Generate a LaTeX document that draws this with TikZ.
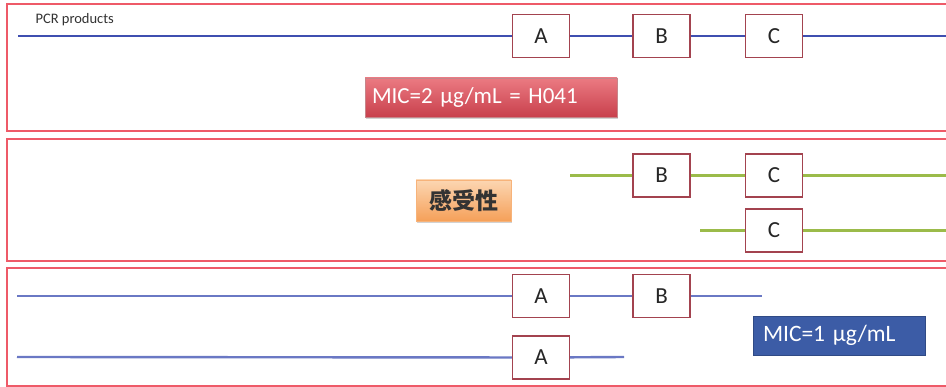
\documentclass[tikz,border=0pt]{standalone}
\usepackage{fontspec}
\setmainfont{Carlito}
\newfontfamily\cjkfont{Noto Sans CJK JP}
\usetikzlibrary{shadows}
\definecolor{panelred}{HTML}{EE5A68}
\definecolor{boxred}{HTML}{A3434F}
\definecolor{dnablue}{HTML}{3F4FB0}
\definecolor{dnablue2}{HTML}{6A78C4}
\definecolor{dnagreen}{HTML}{9BBB4A}
\definecolor{labblue}{HTML}{3C5CA6}
\definecolor{redtop}{HTML}{EB7A82}
\definecolor{redbot}{HTML}{C8404C}
\definecolor{ortop}{HTML}{FCD6B2}
\definecolor{orbot}{HTML}{F5A059}
\begin{document}
\begin{tikzpicture}[x=1pt,y=-1pt,
  panel/.style={draw=panelred,line width=1.3pt},
  genebox/.style={draw=boxred,line width=1.3pt,fill=white,minimum width=57pt,minimum height=43pt,inner sep=0pt,font=\fontsize{23}{25}\selectfont,text=black!85},
  strandA/.style={draw=dnablue,line width=2.6pt},
  strandB/.style={draw=dnagreen,line width=2.6pt},
  strandC/.style={draw=dnablue2,line width=2.4pt},
  redlab/.style={top color=redtop,bottom color=redbot,draw=redbot!80!black!60,inner xsep=7pt,inner ysep=0pt,text width=238pt,align=left,minimum height=39pt,text=white,font=\fontsize{23}{25}\selectfont,drop shadow={shadow xshift=1pt,shadow yshift=-2pt,opacity=0.35}},
  orlab/.style={top color=ortop,bottom color=orbot,draw=orbot!80!white,inner sep=0pt,minimum width=95pt,minimum height=41pt,text=black!80,font=\cjkfont\bfseries\fontsize{23}{25}\selectfont,drop shadow={shadow xshift=1pt,shadow yshift=-2pt,opacity=0.35}},
  bluelab/.style={fill=labblue,draw=labblue!80!black,inner xsep=10pt,inner ysep=0pt,text width=152pt,align=left,minimum height=39pt,text=white,font=\fontsize{23.5}{25}\selectfont}
]
\clip (0,0) rectangle (946,387);
\fill[white] (0,0) rectangle (946,387);
% panels
\draw[panel] (7,4) rectangle (952,131);
\draw[panel] (7,139) rectangle (952,261);
\draw[panel] (7,268) rectangle (952,386);

% panel 1
\node[anchor=west,font=\fontsize{14.5}{16}\selectfont,text=black!80] (pcr) at (32,19.5) {PCR products};
\coordinate (p1s) at (18,36);
\coordinate (p1e) at (950,36);
\node[genebox] (a1) at (541,36) {A};
\node[genebox] (b1) at (661.5,36) {B};
\node[genebox] (c1) at (774,36) {C};
\draw[strandA] (p1s) -- (a1) (a1) -- (b1) (b1) -- (c1) (c1) -- (p1e);
\node[redlab] (mic2) at (491,97.5) {MIC=2 µg/mL = H041};

% panel 2
\node[orlab] (sus) at (463.5,200.5) {感受性};
\coordinate (p2s) at (570,175.5);
\coordinate (p2e) at (950,175.5);
\node[genebox] (b2) at (661.5,175.5) {B};
\node[genebox] (c2) at (774,175.5) {C};
\draw[strandB] (p2s) -- (b2) (b2) -- (c2) (c2) -- (p2e);
\coordinate (p3s) at (700,230.5);
\coordinate (p3e) at (950,230.5);
\node[genebox] (c3) at (774,230.5) {C};
\draw[strandB] (p3s) -- (c3) (c3) -- (p3e);

% panel 3
\coordinate (p4s) at (17,296);
\coordinate (p4e) at (762,296);
\node[genebox] (a4) at (541,296) {A};
\node[genebox] (b4) at (661.5,296) {B};
\draw[strandC] (p4s) -- (a4) (a4) -- (b4) (b4) -- (p4e);
\coordinate (p5s) at (17,357);
\coordinate (p5e) at (624,357);
\node[genebox] (a5) at (541,357.5) {A};
\draw[strandC] (p5s) -- (a5) (a5) -- (p5e);
\node[bluelab] (mic1) at (839,335.5) {MIC=1 µg/mL};
\end{tikzpicture}
\end{document}
